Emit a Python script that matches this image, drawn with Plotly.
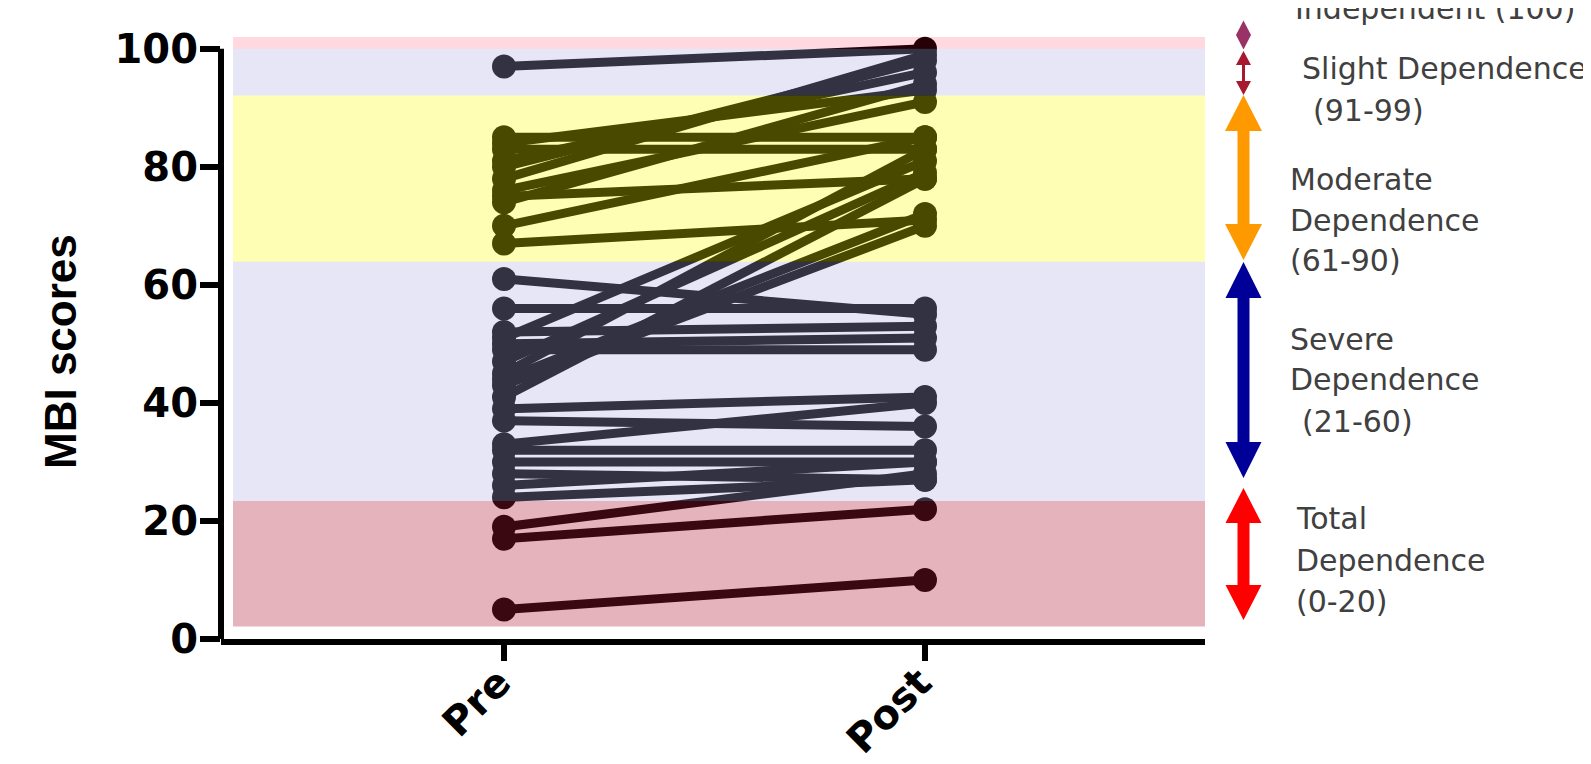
import plotly.graph_objects as go

# ---------------- data ----------------
categories = ["Pre", "Post"]
pre_scores = [97, 85, 84, 83, 81, 80, 78, 76, 75, 74, 70, 67, 61, 56, 52, 51, 50, 49,
              47, 45, 44, 43, 41, 39, 37, 33, 32, 30, 28, 26, 24, 19, 17, 5]
post_scores = [100, 85, 93, 83, 96, 98, 99, 91, 78, 94, 85, 71, 55, 56, 53, 81, 51, 49,
               79, 83, 72, 70, 78, 41, 36, 40, 32, 30, 27, 30, 27, 28, 22, 10]
y_ticks = [0, 20, 40, 60, 80, 100]

# bands (score ranges) and overlay colours
band_lows = [2.1, 23.4, 63.9, 92.1, 100]
band_highs = [23.4, 63.9, 92.1, 100, 102]
band_colors = ["rgb(176,24,48)", "rgb(170,170,224)", "rgb(255,252,0)", "rgb(170,170,224)", "rgb(255,0,40)"]
band_opac = [0.33, 0.294, 0.29, 0.294, 0.15]

# legend-like arrows on the right (positions in page pixels)
arrow_labels = ["Slight", "Moderate", "Severe", "Total"]
arrow_top_px = [51, 95, 262, 488]
arrow_bot_px = [95, 260, 478, 620]
arrow_colors = ["#A6192E", "#FF9900", "#000099", "#FF0000"]
arrow_head_w = [7.5, 18.5, 18, 18]
arrow_head_h = [14, 36, 36, 35]
arrow_shaft_w = [1.5, 6, 6, 6]

text_lines = ["Independent (100)", "Slight Dependence", "(91-99)", "Moderate", "Dependence",
              "(61-90)", "Severe", "Dependence", "(21-60)", "Total", "Dependence", "(0-20)"]
text_x_px = [1295, 1302, 1313, 1290, 1290, 1290, 1290, 1290, 1302, 1296, 1296, 1296]
text_base_px = [20, 80, 122, 191, 232, 272, 351, 391, 433, 530, 572, 613]

# ---------------- layout geometry ----------------
OFF = 8  # page body margin
W, H = 1591, 764
L = 221 - OFF
T = 37 - OFF
B = H - (639 - OFF)
R = W - (1205 - OFF)
PW = W - L - R
PH = H - T - B


def px(x):
    return (x - OFF - L) / PW


def py(y):
    return (H - B - (y - OFF)) / PH


# ---------------- traces ----------------
xs, ys = [], []
for a, b in zip(pre_scores, post_scores):
    xs += [0, 1, None]
    ys += [a, b, None]

fig = go.Figure()
fig.add_trace(go.Scatter(
    x=xs, y=ys, mode="lines+markers",
    line=dict(color="black", width=9),
    marker=dict(color="black", size=24),
    hoverinfo="skip", showlegend=False, cliponaxis=False,
))

shapes = []
for lo, hi, c, op in zip(band_lows, band_highs, band_colors, band_opac):
    shapes.append(dict(type="rect", xref="paper", yref="y", x0=px(233), x1=1, y0=lo, y1=hi,
                       fillcolor=c, opacity=op, line=dict(width=0), layer="above"))

# y-axis line from 0 to 100
shapes.append(dict(type="line", xref="paper", yref="y", x0=0, x1=0, y0=0, y1=100,
                   line=dict(color="black", width=6), layer="above"))

for top, bot, c, hw, hh, sw in zip(arrow_top_px, arrow_bot_px, arrow_colors,
                                    arrow_head_w, arrow_head_h, arrow_shaft_w):
    cx = 1243.5
    pts = [(cx, top), (cx + hw, top + hh), (cx + sw, top + hh), (cx + sw, bot - hh),
           (cx + hw, bot - hh), (cx, bot), (cx - hw, bot - hh), (cx - sw, bot - hh),
           (cx - sw, top + hh), (cx - hw, top + hh)]
    path = "M " + " L ".join(f"{px(x):.5f},{py(y):.5f}" for x, y in pts) + " Z"
    shapes.append(dict(type="path", xref="paper", yref="paper", path=path,
                       fillcolor=c, line=dict(width=0), layer="above"))

cx, cy = 1243.5, 35
dpts = [(cx, cy - 14.5), (cx + 7.5, cy), (cx, cy + 14.5), (cx - 7.5, cy)]
shapes.append(dict(type="path", xref="paper", yref="paper",
                   path="M " + " L ".join(f"{px(x):.5f},{py(y):.5f}" for x, y in dpts) + " Z",
                   fillcolor="#993366", line=dict(width=0), layer="above"))

annotations = []
for t, x, base in zip(text_lines, text_x_px, text_base_px):
    annotations.append(dict(text=t, xref="paper", yref="paper", x=px(x - 2), y=py(base + 8),
                            xanchor="left", yanchor="bottom", showarrow=False,
                            font=dict(family="DejaVu Sans", size=30, color="#404040")))

annotations.append(dict(text="MBI scores", xref="paper", yref="paper", x=px(60), y=py(352),
                        xanchor="center", yanchor="middle", showarrow=False, textangle=-90,
                        font=dict(family="Liberation Sans", size=44, color="black", weight="bold")))

fig.update_layout(
    width=W, height=H,
    margin=dict(l=L, r=R, t=T, b=B, autoexpand=False),
    paper_bgcolor="white", plot_bgcolor="white",
    shapes=shapes, annotations=annotations,
    xaxis=dict(range=[-(504 - 221) / 421, (1205 - 504) / 421], tickvals=[0, 1], ticktext=categories,
               showgrid=False, zeroline=False, showline=True, linecolor="black", linewidth=6,
               ticks="outside", ticklen=16, tickwidth=6, tickcolor="black", tickangle=-45,
               ticklabelstandoff=-18, ticklabelshift=-5,
               tickfont=dict(family="DejaVu Sans", size=40, color="black", weight="bold")),
    yaxis=dict(range=[0, 102], tickvals=y_ticks, showgrid=False, zeroline=False, showline=False,
               ticks="outside", ticklen=20, tickwidth=6, tickcolor="black", ticklabelstandoff=-6,
               tickfont=dict(family="DejaVu Sans", size=40, color="black", weight="bold")),
)

fig.write_html("out.html")
